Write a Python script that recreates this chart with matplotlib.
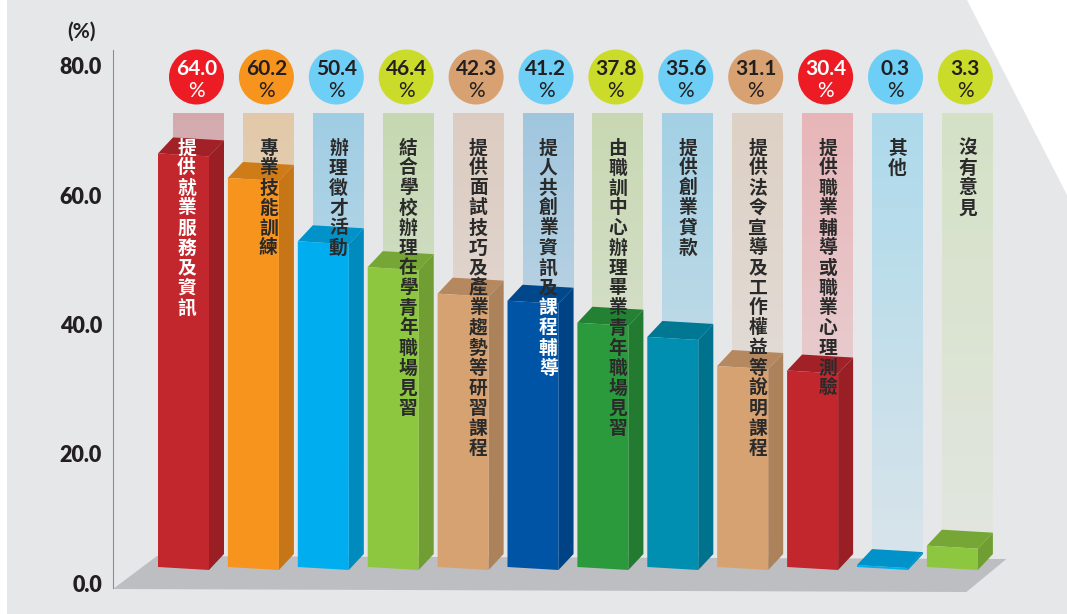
import matplotlib
matplotlib.use('Agg')
import matplotlib.pyplot as plt
from matplotlib.patches import Polygon, Rectangle
import matplotlib.colors as mcolors
import numpy as np

# ---------------- data ----------------
categories = [
    '提供就業服務及資訊',
    '專業技能訓練',
    '辦理徵才活動',
    '結合學校辦理在學青年職場見習',
    '提供面試技巧及產業趨勢等研習課程',
    '提人共創業資訊及課程輔導',
    '由職訓中心辦理畢業青年職場見習',
    '提供創業貸款',
    '提供法令宣導及工作權益等說明課程',
    '提供職業輔導或職業心理測驗',
    '其他',
    '沒有意見',
]
values = [64.0, 60.2, 50.4, 46.4, 42.3, 41.2, 37.8, 35.6, 31.1, 30.4, 0.3, 3.3]
yticks = [0, 20, 40, 60, 80]
unit_label = '(%)'

# ---------------- styles ----------------
front_colors = ['#c1272d', '#f7941d', '#00aeef', '#8dc63f', '#d7a272', '#0054a6',
                '#2a9a3d', '#008fb0', '#d7a272', '#c1272d', '#00aeef', '#8dc63f']
circle_colors = ['#ed1c24', '#f7941d', '#6dcff6', '#cbdb2a', '#d8a171', '#6dcff6',
                 '#cbdb2a', '#6dcff6', '#d8a171', '#ed1c24', '#6dcff6', '#cbdb2a']
circle_text_colors = ['white', '#231f20', '#231f20', '#231f20', '#231f20', '#231f20',
                      '#231f20', '#231f20', '#231f20', 'white', '#231f20', '#231f20']
column_colors = ['#d3a9ad', '#e2c8a8', '#9fcde4', '#c5d8b1', '#dccbc0', '#a0c6de',
                 '#c8d8b2', '#a3d0e4', '#ddd0c4', '#e7b5b8', '#acd9eb', '#d4e1c5']
BG = '#e6e7e9'
DARK = '#231f20'

W, H, DPI = 1067, 614, 100
fig = plt.figure(figsize=(W / DPI, H / DPI), dpi=DPI, facecolor=BG)

# white decorations of the page
fig.patches.append(Rectangle((0, 0), 7 / W, 1, transform=fig.transFigure,
                             facecolor='white', edgecolor='none', zorder=0))
fig.patches.append(Polygon([(967 / W, 1), (1, 1), (1, 1 - 195 / H)], closed=True,
                           transform=fig.transFigure, facecolor='white',
                           edgecolor='none', zorder=0))

# axes geometry (pixels from top)
AX_L, AX_R, AX_T, AX_B = 113, 1043, 50, 588
Y0_PX, Y80_PX = 583, 66
SY = (Y0_PX - Y80_PX) / 80.0          # px per y unit
SX = 69.9                             # px per category
X0_PX = 183.5                         # centre of first bar front

ax = fig.add_axes([AX_L / W, (H - AX_B) / H, (AX_R - AX_L) / W, (AX_B - AX_T) / H])
ax.set_facecolor('none')
ax.set_xlim(-(X0_PX - AX_L) / SX, -(X0_PX - AX_L) / SX + (AX_R - AX_L) / SX)
ax.set_ylim(-(AX_B - Y0_PX) / SY, -(AX_B - Y0_PX) / SY + (AX_B - AX_T) / SY)


def ypx(py):
    """pixel row (from top) -> y data"""
    return (Y0_PX - py) / SY


n = len(values)
hw = 25.5 / SX
dx = 15 / SX
dy = 16 / SY
tilt = 3 / SY
base = 16 / SY
col_top = ypx(113)


def darker(c, f):
    r, g, b = mcolors.to_rgb(c)
    return (r * f, g * f, b * f)


bgc = np.array(mcolors.to_rgb(BG))

# floor
floor = Polygon([(ax.get_xlim()[0], ypx(589)), ((n - 1) + 14 / SX, ypx(592)),
                 ((n - 1) + 54 / SX, ypx(559)), (-(X0_PX - 157) / SX, ypx(556))],
                closed=True, facecolor='#bdbec1', edgecolor='none', zorder=0.5,
                clip_on=False)
ax.add_patch(floor)

for i, v in enumerate(values):
    L, R = i - hw, i + hw
    b = base
    top = b + v
    # translucent label column with fade
    cl, cr = L + dx, R + dx
    cb = b + dy
    steps = 60
    ctop = np.array(mcolors.to_rgb(column_colors[i]))
    for k in range(steps):
        y1 = col_top - (col_top - cb) * k / steps
        y2 = col_top - (col_top - cb) * (k + 1) / steps
        frac = 0.75 * (k + 0.5) / steps
        col = ctop * (1 - frac) + bgc * frac
        ax.add_patch(Rectangle((cl, y2), cr - cl, y1 - y2 + 0.05, facecolor=col,
                               edgecolor='none', zorder=1, clip_on=False))
    fc = front_colors[i]
    front = [(L, b), (R, b - tilt), (R, top - tilt), (L, top)]
    side = [(R, b - tilt), (R + dx, b - tilt + dy), (R + dx, top - tilt + dy), (R, top - tilt)]
    topf = [(L, top), (R, top - tilt), (R + dx, top - tilt + dy), (L + dx, top + dy)]
    ax.add_patch(Polygon(side, closed=True, facecolor=darker(fc, 0.8), edgecolor='none',
                         zorder=3, clip_on=False))
    ax.add_patch(Polygon(topf, closed=True, facecolor=darker(fc, 0.84), edgecolor='none',
                         zorder=3, clip_on=False))
    ax.add_patch(Polygon(front, closed=True, facecolor=fc, edgecolor='none',
                         zorder=3, clip_on=False))

# circles with values
cx = [i + dx - 2 / SX for i in range(n)]
cy = [ypx(77)] * n
ax.scatter(cx, cy, s=(55 * 0.72) ** 2, c=circle_colors, edgecolors='none',
           zorder=4, clip_on=False)
for i, v in enumerate(values):
    ax.text(cx[i], ypx(69), f'{v:.1f}', ha='center', va='center', fontsize=15,
            family='Lato', weight='bold', color=circle_text_colors[i], zorder=5)
    ax.text(cx[i], ypx(91), '%', ha='center', va='center', fontsize=15,
            family='Lato', color=circle_text_colors[i], zorder=5)

# vertical category labels (one char per line)
white_from = {0: 0, 5: 8}
xshift = {0: -12}
for i, lab in enumerate(categories):
    x = i + dx + xshift.get(i, 0) / SX
    for k, ch in enumerate(lab):
        colr = 'white' if (i in white_from and k >= white_from[i]) else '#2a2a2a'
        ax.text(x, ypx(148 + 20 * k), ch, ha='center', va='center', fontsize=13.5,
                family=['Noto Sans CJK TC', 'DejaVu Sans'], weight='bold',
                color=colr, zorder=6)

# axis styling
for s in ['top', 'right', 'bottom']:
    ax.spines[s].set_visible(False)
ax.spines['left'].set_color('#8c8c8c')
ax.spines['left'].set_linewidth(0.8)
ax.set_xticks([])
ax.set_yticks(yticks)
ax.set_yticklabels([f'{t:.1f}' for t in yticks], fontsize=15.5, family='Lato',
                   weight='heavy', color=DARK)
ax.tick_params(axis='y', length=0, pad=8)

fig.text(81 / W, 1 - 32 / H, unit_label, ha='center', va='center', fontsize=15,
         family='Lato', weight='bold', color=DARK)

fig.savefig('out.png', dpi=DPI, facecolor=BG)
